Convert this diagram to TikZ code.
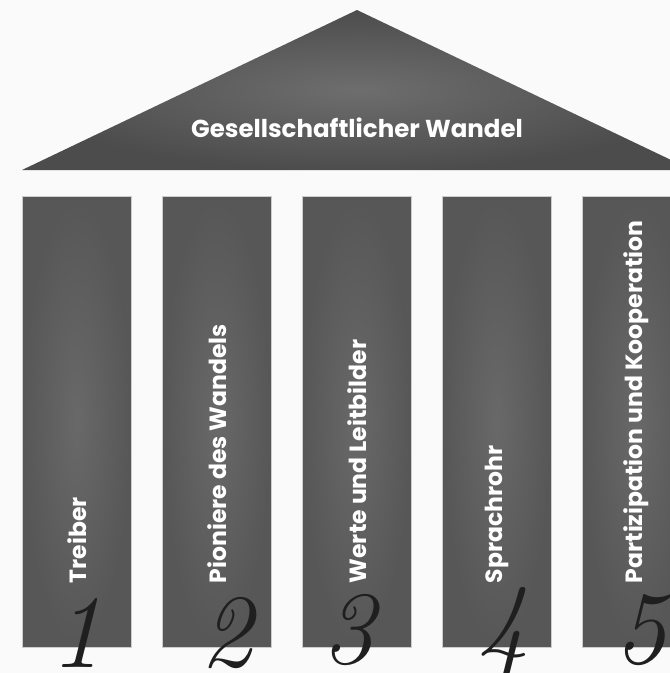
\documentclass[tikz,border=0pt]{standalone}
\usepackage{fontspec}
\newfontfamily\pillarfont{Poppins}
\usetikzlibrary{positioning}

\tikzset{
  pillar/.style={inner sep=0pt, minimum width=109pt, minimum height=451pt,
    inner color=black!59, outer color=black!66, draw=black!20, line width=0.4pt},
  pillarlabel/.style={rotate=90, anchor=west, text=white, inner sep=0pt,
    font=\pillarfont\bfseries\fontsize{23.5}{23.5}\selectfont},
  hand/.style={text=black!88, inner sep=0pt,
    font=\itshape\fontsize{104}{104}\selectfont}
}

\begin{document}
\begin{tikzpicture}[x=1pt, y=-1pt]
			%%%%% BACKGROUND %%%%%
			\clip (0, 0) rectangle (670, 673);
			\fill[white!98!black] (0, 0) rectangle (670, 673);
			
			%%%%% ROOF %%%%%
			\shade[inner color=black!57, outer color=black!70] (22, 170) -- (357, 10) -- (692, 170) -- cycle;
			\node[text=white, font=\pillarfont\bfseries\fontsize{24.5}{24.5}\selectfont] (roof) at (357, 128) {Gesellschaftlicher Wandel};
			
			%%%%% PILLARS %%%%%
			\node[pillar, anchor=north west] (p1) at (22, 196) {};
			\node[pillar, anchor=north west] (p2) at (162, 196) {};
			\node[pillar, anchor=north west] (p3) at (302, 196) {};
			\node[pillar, anchor=north west] (p4) at (442, 196) {};
			\node[pillar, anchor=north west] (p5) at (582, 196) {};
			
			\node[pillarlabel] (t1) at ([yshift=64pt]p1.south) {Treiber};
			\node[pillarlabel] (t2) at ([yshift=64pt]p2.south) {Pioniere des Wandels};
			\node[pillarlabel] (t3) at ([yshift=64pt]p3.south) {Werte und Leitbilder};
			\node[pillarlabel] (t4) at ([yshift=64pt]p4.south) {Sprachrohr};
			\node[pillarlabel] (t5) at ([yshift=64pt]p5.south) {Partizipation und Kooperation};
			
			%%%%% NUMBERS %%%%%
			\node[hand] (n1) at (76, 633) {1};
			\node[hand] (n2) at (226, 633) {2};
			\node[hand] (n3) at (348, 630) {3};
			\node[hand] (n4) at (503, 632) {4};
			\node[hand] (n5) at (640, 630) {5};
			
		\end{tikzpicture}
\end{document}
